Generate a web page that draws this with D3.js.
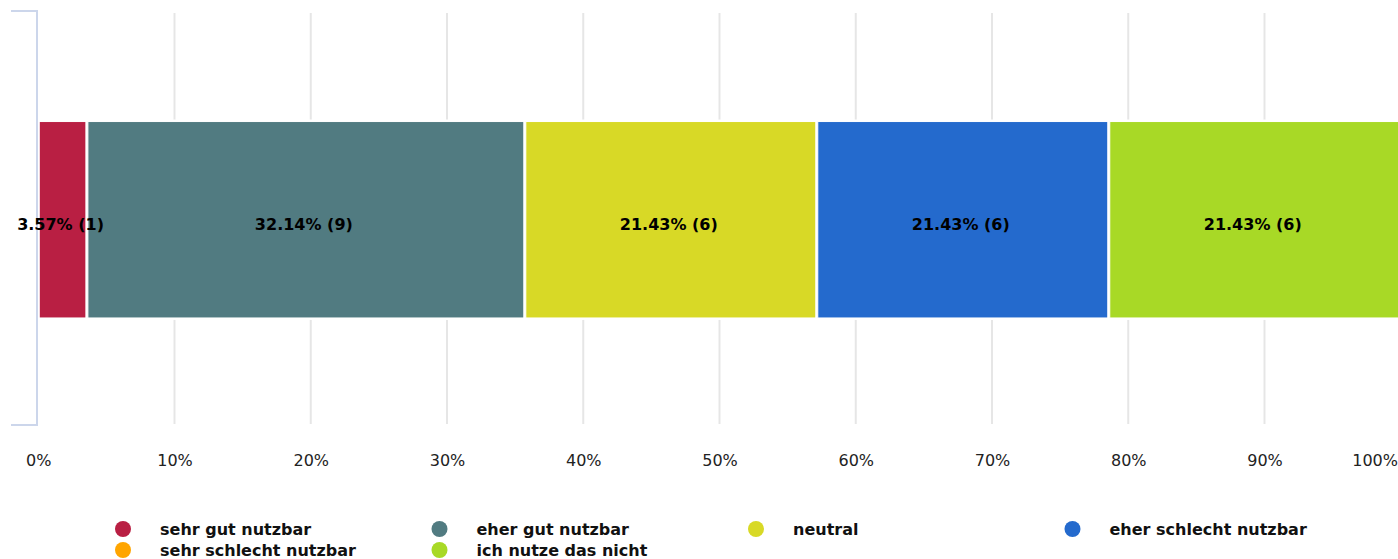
<!DOCTYPE html>
<html><head><meta charset="utf-8">
<script src="https://cdn.jsdelivr.net/npm/d3@7"></script>
<style>html,body{margin:0;padding:0;background:#fff;overflow:hidden}</style>
</head><body>
<svg id="chart" width="1398" height="559"></svg>
<script>
const categories = ["sehr gut nutzbar","eher gut nutzbar","neutral","eher schlecht nutzbar","sehr schlecht nutzbar","ich nutze das nicht"];
const counts = [1, 9, 6, 6, 0, 6];
const percents = [3.57, 32.14, 21.43, 21.43, 0, 21.43];
const colors = ["#b91f43","#517b81","#d8d926","#246acd","#ffa500","#a8d926"];
const tickValues = [0,10,20,30,40,50,60,70,80,90,100];

const svg = d3.select("#chart");
const font = "DejaVu Sans, sans-serif";
const W = 1398;

const x = d3.scaleLinear().domain([0,100]).range([38.25, 1400.75]);
const y = d3.scaleBand().domain(["q"]).range([12,427.5]).padding(0.358);

// stacking
let cum = 0;
const segs = categories.map((c,i)=>{ const s={cat:c,x0:cum,x1:cum+percents[i],p:percents[i],n:counts[i],color:colors[i]}; cum+=percents[i]; return s; });

// gridlines (split around the bar)
const grid = svg.append("g");
const gv = tickValues.filter(v=>v>0);
[[13, y("q")-2],[y("q")+y.bandwidth()+2, 424]].forEach(([a,b])=>{
  grid.selectAll(null).data(gv).enter().append("line")
    .attr("x1",d=>x(d)).attr("x2",d=>x(d)).attr("y1",a).attr("y2",b)
    .attr("stroke","#e6e6e6").attr("stroke-width",2);
});

// bars
svg.append("g").selectAll("rect").data(segs.filter(s=>s.p>0)).enter().append("rect")
  .attr("x",d=>x(d.x0)+1).attr("width",d=>Math.max(0,x(d.x1)-x(d.x0)-2))
  .attr("y",y("q")).attr("height",y.bandwidth())
  .attr("fill",d=>d.color).attr("stroke","#fff").attr("stroke-width",1);

// left axis bracket
const yTop = 11, yBot = 425, ax = 37;
svg.append("path").attr("d",`M11,${yTop}H${ax}V${yBot}H11`)
  .attr("fill","none").attr("stroke","#ccd6eb").attr("stroke-width",2);

// bar labels
svg.append("g").selectAll("text").data(segs.filter(s=>s.p>0)).enter().append("text")
  .attr("x",d=>x((d.x0+d.x1)/2)-2).attr("y",y("q")+y.bandwidth()/2+10)
  .attr("text-anchor","middle").attr("font-family",font).attr("font-weight","bold")
  .attr("font-size",16).attr("fill","#000")
  .text(d=>`${d.p.toFixed(2)}% (${d.n})`);

// x axis labels
const xAxis = d3.axisBottom(x).tickValues(tickValues).tickFormat(d=>d+"%").tickSize(0).tickPadding(0);
const xg = svg.append("g").attr("transform","translate(0,455)").call(xAxis);
xg.select(".domain").remove();
xg.selectAll("text").attr("font-family",font).attr("font-size",16).attr("fill","#222").attr("dy","0.71em").attr("y",0);
// keep the last label inside the chart edge
xg.selectAll(".tick").filter(d=>d===100).select("text")
  .attr("text-anchor","end").attr("x", (W-0.5) - x(100));

// legend
const leg = svg.append("g");
const colW = 316.5, lx0 = 123, rows = [529, 550];
categories.forEach((c,i)=>{
  const col = i % 4, row = Math.floor(i/4);
  const cx = lx0 + col*colW, cy = rows[row];
  leg.append("circle").attr("cx",cx).attr("cy",cy).attr("r",8).attr("fill",colors[i]);
  leg.append("text").attr("x",cx+37).attr("y",cy+6).attr("font-family",font)
    .attr("font-weight","bold").attr("font-size",16).attr("fill","#111").text(c);
});
</script>
</body></html>
